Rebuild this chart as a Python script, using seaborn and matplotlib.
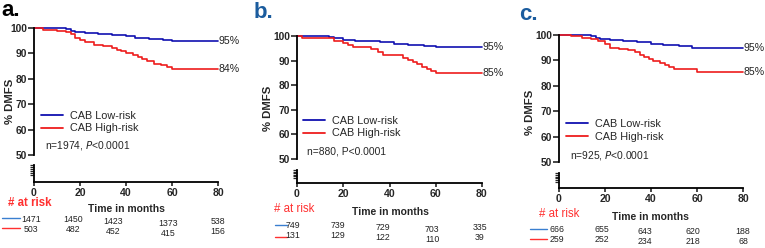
import numpy as np
import pandas as pd
import seaborn as sns
import matplotlib
matplotlib.use("Agg")
import matplotlib.pyplot as plt
from matplotlib.lines import Line2D

sns.set_style("white")
plt.rcParams['font.family'] = ['Liberation Sans', 'DejaVu Sans']

W, H = 765, 248

# ---- data ----
panels = ['a.', 'b.', 'c.']
groups = ['CAB Low-risk', 'CAB High-risk']

a_low_t = [0, 14, 16, 18, 22, 28, 34, 40, 44, 50, 56, 60, 80]
a_low_s = [100, 99.5, 99, 98.5, 98, 97.6, 97.2, 96.8, 96.2, 95.8, 95.4, 95, 95]
a_high_t = [0, 4, 10, 14, 16, 18, 20, 22, 26, 30, 34, 36, 38, 40, 43, 45, 47, 49, 52, 55, 58, 60, 80]
a_high_s = [100, 99.3, 99, 98.5, 97.8, 96, 95.3, 94.3, 93.5, 93, 92.3, 91.5, 90.8, 90, 89.3, 88.5, 87.8, 87, 86, 85.3, 84.5, 83.7, 83.7]

b_low_t = [0, 14, 16, 20, 25, 30, 36, 42, 48, 55, 60, 80]
b_low_s = [100, 99.5, 99, 98.5, 98.1, 97.8, 97.5, 96.8, 96.4, 96, 95.5, 95.5]
b_high_t = [0, 2, 14, 16, 20, 22, 24, 30, 32, 35, 37, 44, 46, 48, 50, 52, 54, 56, 58, 60, 80]
b_high_s = [100, 99.3, 99.3, 98, 97.2, 96.2, 95.4, 95.4, 94.7, 93.5, 92.4, 92.4, 91.2, 90.4, 89.5, 88.5, 87.5, 86.5, 85.6, 84.8, 84.8]

c_low_t = [0, 14, 16, 18, 22, 28, 34, 40, 45, 52, 58, 80]
c_low_s = [100, 99.6, 99, 98.5, 98, 97.6, 97.1, 96.5, 96, 95.6, 95, 95]
c_high_t = [0, 5, 10, 14, 17, 20, 22, 26, 30, 33, 35, 37, 39, 41, 44, 46, 48, 50, 55, 59, 60, 80]
c_high_s = [100, 99.5, 99, 98.4, 97.6, 96.5, 95, 94.6, 94, 93.2, 92.3, 91.3, 90.4, 89.8, 89, 88.2, 87.5, 86.8, 86.6, 86.6, 85.4, 85.4]

final_pct = [['95%', '84%'], ['95%', '85%'], ['95%', '85%']]
stats_text = ['n=1974, $\\it{P}$<0.0001', 'n=880, P<0.0001', 'n=925, $\\it{P}$<0.0001']

risk_low = [[1471, 1450, 1423, 1373, 538], [749, 739, 729, 703, 335], [666, 655, 643, 620, 188]]
risk_high = [[503, 482, 452, 415, 156], [131, 129, 122, 110, 39], [259, 252, 234, 218, 68]]

curves = [(a_low_t, a_low_s, a_high_t, a_high_s),
          (b_low_t, b_low_s, b_high_t, b_high_s),
          (c_low_t, c_low_s, c_high_t, c_high_s)]

# ---- layout in pixels ----
layout = [
    dict(lab=(1, 11), labc='black', x0=34, x1=218, yt=28, yb=155, lt=165, lb=182,
         ylab=(10, 101), leg=(45, 115, 129, 146), risk=(8, 203), tim=(126, 209),
         rl=(2, 20, 218, 228), num_x=[31, 73, 113, 168, 218], num_y=[220, 230],
         stag=[0, -1, 2, 3, 2], bold_risk=True),
    dict(lab=(254, 12), labc='#1b5c9e', x0=297, x1=482, yt=36, yb=159, lt=170, lb=183,
         ylab=(268, 108), leg=(307, 119, 135, 151), risk=(274, 209), tim=(390, 212),
         rl=(275, 287, 225, 237), num_x=[293, 338, 383, 432, 480], num_y=[226, 236],
         stag=[0, 0, 2, 3, 2], bold_risk=False),
    dict(lab=(519, 15), labc='#1b5c9e', x0=559, x1=743, yt=35, yb=162, lt=173, lb=188,
         ylab=(530, 112), leg=(570, 123, 138, 155), risk=(539, 214), tim=(650, 217),
         rl=(530, 547, 229, 239), num_x=[557, 602, 645, 693, 743], num_y=[230, 240],
         stag=[0, 0, 1, 2, 1], bold_risk=False),
]

blue = '#1010b0'
red = '#ee1c1c'
blue_light = '#3a7fd0'
red_light = '#ff3030'

fig = plt.figure(figsize=(W / 100, H / 100), dpi=100)


def fx(px):
    return px / W


def fy(py):
    return 1 - py / H


for i, L in enumerate(layout):
    lt, ls, ht, hs = curves[i]
    df = pd.concat([
        pd.DataFrame({'t': lt, 's': ls, 'g': groups[0]}),
        pd.DataFrame({'t': ht, 's': hs, 'g': groups[1]}),
    ])

    ax = fig.add_axes([fx(L['x0']), fy(L['yb']), fx(L['x1'] - L['x0']), (L['yb'] - L['yt']) / H])
    sns.lineplot(data=df, x='t', y='s', hue='g', palette={groups[0]: blue, groups[1]: red},
                 drawstyle='steps-post', linewidth=1.2, ax=ax, legend=False, clip_on=False)
    ax.set_xlim(0, 80)
    ax.set_ylim(50, 100)
    ax.set_yticks([50, 60, 70, 80, 90, 100])
    ax.set_xticks([])
    ax.set_xlabel('')
    ax.set_ylabel('')
    for s in ['top', 'right', 'bottom']:
        ax.spines[s].set_visible(False)
    ax.spines['left'].set_linewidth(1.3)
    ax.spines['left'].set_color('black')
    ax.tick_params(axis='y', direction='out', length=4, width=1.2, pad=1, labelsize=7.4, left=True)
    for t in ax.get_yticklabels():
        t.set_fontweight('bold')
    ax.patch.set_alpha(0)

    # end percentages
    for val, txt in zip([ls[-1], hs[-1]], final_pct[i]):
        ax.text(80.2, val, txt, va='center', ha='left', fontsize=7.6,
                color='#222222', clip_on=False)

    # lower broken-axis segment
    ax2 = fig.add_axes([fx(L['x0']), fy(L['lb']), fx(L['x1'] - L['x0']), (L['lb'] - L['lt']) / H])
    ax2.set_xlim(0, 80)
    ax2.set_ylim(0, 1)
    ax2.set_yticks([1.0, 0.88, 0.76, 0.64, 0.52, 0.40])
    ax2.set_yticklabels([])
    ax2.tick_params(axis='y', direction='out', length=3, width=0.9, pad=1, left=True)
    ax2.set_xticks([0, 20, 40, 60, 80])
    ax2.tick_params(axis='x', direction='out', length=3, width=1.2, pad=1.5, labelsize=7.6, bottom=True)
    for t in ax2.get_xticklabels():
        t.set_fontweight('bold')
    for s in ['top', 'right']:
        ax2.spines[s].set_visible(False)
    ax2.spines['left'].set_linewidth(1.3)
    ax2.spines['bottom'].set_linewidth(1.3)
    ax2.spines['left'].set_color('black')
    ax2.spines['bottom'].set_color('black')
    ax2.patch.set_alpha(0)

    # panel letter
    fig.text(fx(L['lab'][0]), fy(L['lab'][1]), panels[i], fontsize=16, fontweight='bold',
             color=L['labc'], va='center', ha='left')

    # y label
    fig.text(fx(L['ylab'][0]), fy(L['ylab'][1]), '% DMFS', rotation=90, fontsize=8.2,
             fontweight='bold', va='center', ha='center')

    # legend
    lx, ly1, ly2, ly3 = L['leg']
    handles = [Line2D([0], [0], color=blue, lw=1.3), Line2D([0], [0], color=red, lw=1.3)]
    fig.legend(handles, groups, loc='center left', frameon=False, fontsize=7.8,
               bbox_to_anchor=(fx(lx - 4), fy((ly1 + ly2) / 2)), handlelength=2.0,
               handletextpad=0.7, labelspacing=0.25, borderpad=0, borderaxespad=0)
    fig.text(fx(lx), fy(ly3), stats_text[i], fontsize=7.4, va='center', ha='left')

    # time label and # at risk
    fig.text(fx(L['tim'][0]), fy(L['tim'][1]), 'Time in months', fontsize=7.5, fontweight='bold',
             ha='center', va='center')
    fig.text(fx(L['risk'][0]), fy(L['risk'][1]), '# at risk', fontsize=8.3, color=red_light,
             fontweight='bold' if L['bold_risk'] else 'normal', ha='left', va='center')

    # at-risk lines and numbers
    x_a, x_b, y_a, y_b = L['rl']
    fig.add_artist(Line2D([fx(x_a), fx(x_b)], [fy(y_a), fy(y_a)], color=blue_light, lw=1.0))
    fig.add_artist(Line2D([fx(x_a), fx(x_b)], [fy(y_b), fy(y_b)], color=red_light, lw=1.0))
    for k in range(5):
        fig.text(fx(L['num_x'][k]), fy(L['num_y'][0] + L['stag'][k]), str(risk_low[i][k]),
                 fontsize=6.3, ha='center', va='center', color='#222222')
        fig.text(fx(L['num_x'][k]), fy(L['num_y'][1] + L['stag'][k]), str(risk_high[i][k]),
                 fontsize=6.3, ha='center', va='center', color='#222222')

fig.savefig('out.png', dpi=100, facecolor='white')
